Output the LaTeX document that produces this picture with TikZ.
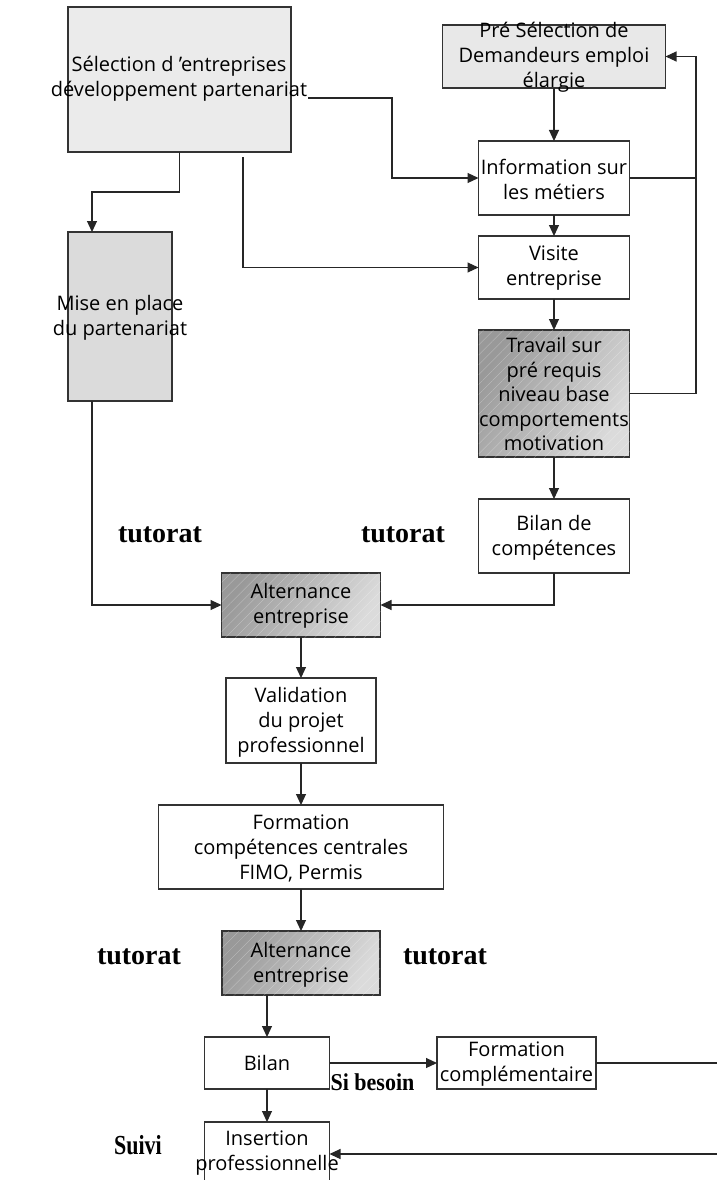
\documentclass[tikz,border=0pt]{standalone}
\usepackage{graphicx}
\usepackage{fontspec}
\setmainfont{Open Sans}
\newfontfamily\serifb{Liberation Serif}
\usetikzlibrary{arrows.meta,patterns.meta}
\begin{document}
\begin{tikzpicture}[x=1pt,y=-1pt,
  box/.style={draw=black!80, line width=1.1pt, inner sep=0pt, outer sep=0pt},
  shadebox/.style={box, left color=black!40, right color=black!14, shading angle=60,
     postaction={pattern={Lines[angle=45,distance=7pt,line width=0.35pt]}, pattern color=white, opacity=0.35}},
  txt/.style={font=\fontsize{20}{25}\selectfont, align=center, inner sep=0pt},
  lbl/.style={font=\serifb\bfseries\fontsize{28}{32}\selectfont, inner sep=0pt},
  slbl/.style={font=\serifb\bfseries\fontsize{22}{26}\selectfont, inner sep=0pt},
  arr/.style={-{Triangle[length=11pt,width=10pt]}, line width=1.1pt, draw=black!85},
  ln/.style={line width=1.1pt, draw=black!85}]
\useasboundingbox (0,0) rectangle (717,1180);
\fill[white] (0,0) rectangle (717,1180);
% boxes
\node[box, fill=black!8, minimum width=223pt, minimum height=145pt] (sel) at (179.5,79.5) {};
\node[txt] (selt) at (179,79) {Sélection d 'entreprises\\développement partenariat};
\node[box, fill=black!9, minimum width=223pt, minimum height=63pt] (pre) at (554,56.5) {};
\node[txt] (pret) at (554,57) {Pré Sélection de\\Demandeurs emploi\\élargie};
\node[box, fill=white, minimum width=151pt, minimum height=74pt] (info) at (554,178) {};
\node[txt] at (554,179) {Information sur\\les métiers};
\node[box, fill=white, minimum width=151pt, minimum height=63pt] (visite) at (554,267.5) {};
\node[txt] at (554,268.5) {Visite\\entreprise};
\node[shadebox, minimum width=151pt, minimum height=127pt] (travail) at (554,393.5) {};
\node[txt, font=\fontsize{20}{24.5}\selectfont] at (554,394) {Travail sur\\pré requis\\niveau base\\comportements\\motivation};
\node[box, fill=white, minimum width=151pt, minimum height=74pt] (bilanc) at (554,536) {};
\node[txt] at (554,538) {Bilan de\\compétences};
\node[box, fill=black!14, minimum width=104pt, minimum height=169pt] (mise) at (120,316.5) {};
\node[txt] at (120,317.5) {Mise en place\\du partenariat};
\node[shadebox, minimum width=159pt, minimum height=64pt] (alt1) at (301,605) {};
\node[txt] at (301,606) {Alternance\\entreprise};
\node[box, fill=white, minimum width=150pt, minimum height=85pt] (valid) at (301,720.5) {};
\node[txt] at (301,722) {Validation\\du projet\\professionnel};
\node[box, fill=white, minimum width=285pt, minimum height=84pt] (form) at (301,847) {};
\node[txt] at (301,848) {Formation\\compétences centrales\\FIMO, Permis};
\node[shadebox, minimum width=158pt, minimum height=64pt] (alt2) at (301,963) {};
\node[txt] at (301,964.5) {Alternance\\entreprise};
\node[box, fill=white, minimum width=125pt, minimum height=52pt] (bilan) at (267,1063) {};
\node[txt] at (267,1063) {Bilan};
\node[box, fill=white, minimum width=159pt, minimum height=52pt] (fc) at (516.5,1063) {};
\node[txt] at (516.5,1064.5) {Formation\\complémentaire};
\node[box, fill=white, minimum width=125pt, minimum height=64pt] (ins) at (267,1154) {};
\node[txt] at (267,1153.5) {Insertion\\professionnelle};
% labels
\node[lbl] (tut1) at (160,535) {tutorat};
\node[lbl] (tut2) at (403,535) {tutorat};
\node[lbl] (tut3) at (139,957) {tutorat};
\node[lbl] (tut4) at (445,957) {tutorat};
\node[slbl] (suivi) at (138,1145) {\scalebox{1}[1.25]{Suivi}};
\node[slbl] (sib) at (372.5,1082) {\scalebox{1}[1.1]{Si besoin}};
% coordinates
\coordinate (selend) at (308,98);
\coordinate (rr) at (696,0);
\coordinate (rim) at (720,0);
% connectors
\draw[arr] (sel.south) -- ++(0,40) -| ([xshift=-28pt]mise.north);
\draw[arr] ([xshift=63.5pt,yshift=-5pt]sel.south) |- (visite.west);
\draw[arr] (selend) -- ++(84,0) |- (info.west);
\draw[arr] (pre.south) -- (info.north);
\draw[arr] (info.south) -- (visite.north);
\draw[arr] (visite.south) -- (travail.north);
\draw[arr] (travail.south) -- (bilanc.north);
\draw[ln] (info.east) -- (info.east -| rr);
\draw[arr] (travail.east) -- (travail.east -| rr) |- (pre.east);
\draw[arr] ([xshift=-28pt]mise.south) |- (alt1.west);
\draw[arr] (bilanc.south) |- (alt1.east);
\draw[arr] (alt1.south) -- (valid.north);
\draw[arr] (valid.south) -- (form.north);
\draw[arr] (form.south) -- (alt2.north);
\draw[arr] (alt2.south -| bilan.north) -- (bilan.north);
\draw[arr] (bilan.east) -- (fc.west);
\draw[arr] (bilan.south) -- (ins.north);
\draw[ln] (fc.east) -- (fc.east -| rim);
\draw[arr] (rim |- ins.east) -- (ins.east);
\end{tikzpicture}
\end{document}
